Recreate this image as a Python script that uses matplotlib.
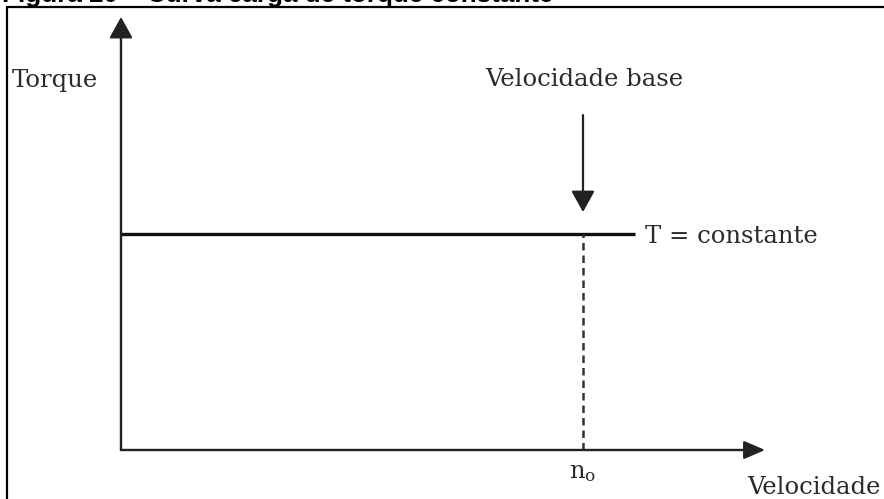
import matplotlib
matplotlib.use("Agg")
import matplotlib.pyplot as plt
from matplotlib.patches import Rectangle

# ---- data (normalised units) ----
torque_speed = [0.0, 1.113]      # horizontal torque line extent (speed)
torque_value = [1.0, 1.0]        # T = constant
base_speed = 1.0                 # n_o
x_axis_end = 1.394
y_axis_end = 2.0
base_arrow_start = 1.547
base_arrow_end = 1.099

title = "Figura 20 – Curva carga de torque constante"
ylabel = "Torque"
xlabel = "Velocidade"
base_label = "Velocidade base"
line_label = "T = constante"
tick_label = r"$\mathregular{n_o}$"

W, H = 884, 499
fig = plt.figure(figsize=(W / 100, H / 100), dpi=100)
ax = fig.add_axes([0, 0, 1, 1])
ox, oy = 121, 450
sx, sy = 462.0, 216.5
ax.set_xlim(-ox / sx, (W - ox) / sx)
ax.set_ylim(-(H - oy) / sy, oy / sy)
ax.axis("off")

serif = "DejaVu Serif"
fs = 17.5
txt_col = "#2a2a2a"
axis_col = "#4a4a4a"

# axes with arrows
arrow_style = "-|>,head_length=0.65,head_width=0.36"
ax.annotate("", xy=(0, y_axis_end), xytext=(0, 0),
            arrowprops=dict(arrowstyle=arrow_style, color="#222222", lw=1.6,
                            mutation_scale=20, shrinkA=0, shrinkB=0))
ax.annotate("", xy=(x_axis_end, 0), xytext=(0, 0),
            arrowprops=dict(arrowstyle="-|>,head_length=0.65,head_width=0.28",
                            color="#222222", lw=1.6,
                            mutation_scale=20, shrinkA=0, shrinkB=0))
ax.plot([0, 0], [0, y_axis_end - 0.06], color=axis_col, lw=1.6)
ax.plot([0, x_axis_end - 0.03], [0, 0], color=axis_col, lw=1.6)

# constant torque line
ax.plot(torque_speed, torque_value, color="#111111", lw=2.4,
        solid_capstyle="butt")

# dashed vertical at base speed
ax.plot([base_speed, base_speed], [0, torque_value[0]], color="#333333",
        lw=1.8, ls=(0, (3, 2)))

# base speed arrow
ax.annotate("", xy=(base_speed, base_arrow_end),
            xytext=(base_speed, base_arrow_start),
            arrowprops=dict(arrowstyle=arrow_style, color="#222222", lw=1.6,
                            mutation_scale=20, shrinkA=0, shrinkB=0))

# texts
ax.text(-109 / sx, (oy - 80) / sy, ylabel, family=serif, fontsize=fs,
        color=txt_col, ha="left", va="center")
ax.text(base_speed + 1 / sx, (oy - 80) / sy, base_label, family=serif,
        fontsize=fs, color=txt_col, ha="center", va="center")
ax.text(torque_speed[1] + 10 / sx, torque_value[0] - 3 / sy, line_label,
        family=serif, fontsize=fs, color=txt_col, ha="left", va="center")
ax.text(base_speed, -22 / sy, tick_label, family=serif, fontsize=fs,
        color=txt_col, ha="center", va="center")
ax.text(x_axis_end - 18 / sx, -37 / sy, xlabel, family=serif, fontsize=fs,
        color=txt_col, ha="left", va="center")

# border frame (right and bottom edges lie outside the picture)
fig.patches.append(Rectangle((6.5 / W, -0.05), 1.05, 1.05 - 6.5 / H,
                             transform=fig.transFigure, fill=False,
                             edgecolor="black", lw=1.6))

# clipped title
fig.text(2 / W, 1 - 2 / H, title, family="Liberation Sans", fontweight="bold",
         fontsize=18.7, ha="left", va="baseline", color="black")

fig.savefig("out.png", dpi=100)
